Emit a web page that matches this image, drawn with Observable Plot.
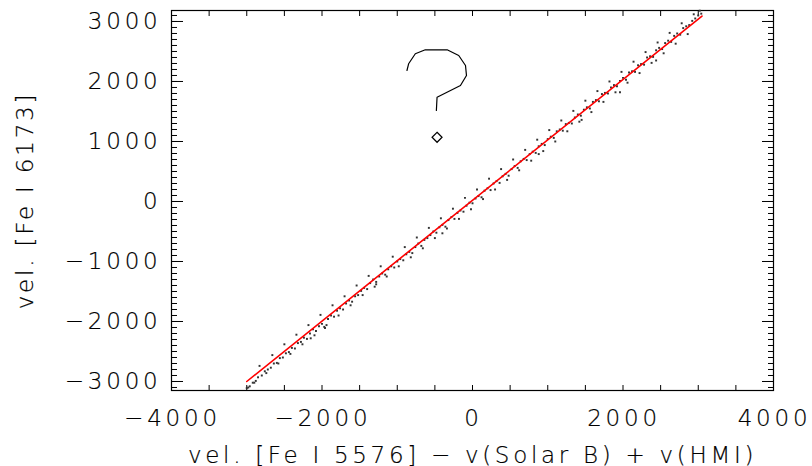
<!DOCTYPE html>
<html><head><meta charset="utf-8">
<script src="https://cdn.jsdelivr.net/npm/d3@7"></script>
<script src="https://cdn.jsdelivr.net/npm/@observablehq/plot@0.6"></script>
<style>
html,body{margin:0;padding:0;background:#fff;}
#chart svg{font-family:"DejaVu Sans",sans-serif;font-weight:200;}
#chart svg text{fill:#000;stroke:#000;stroke-width:0.2px;letter-spacing:3.8px;}
#chart svg g[aria-label="x-axis label"] text{letter-spacing:3.7px;}
#chart svg g[aria-label="y-axis label"] text{letter-spacing:2.8px;}
</style>
</head><body><div id="chart"></div>
<script>
// scatter points: vel [Fe I 5576]-v(Solar B)+v(HMI)  vs  vel [Fe I 6173]
const ptX = [-3000,-2960,-2920,-2880,-2850,-2800,-2760,-2720,-2680,-2640,-2600,-2560,-2520,-2480,-2440,-2400,-2360,-2320,-2280,-2240,-2200,-2160,-2120,-2080,-2040,-2000,-1960,-1920,-1880,-1840,-1800,-1760,-1720,-1680,-1640,-1600,-1560,-1520,-1480,-1440,-1400,-1360,-1320,-1280,-1240,-1200,-1160,-1120,-1080,-1040,-1000,-960,-920,-880,-840,-800,-760,-720,-680,-640,-600,-560,-520,-480,-440,-400,-360,-320,-280,-240,-200,-160,-120,-80,-40,0,40,80,120,160,200,240,280,320,360,400,440,480,520,560,600,640,680,720,760,800,840,880,920,960,1000,1040,1080,1120,1160,1200,1240,1280,1320,1360,1400,1440,1480,1520,1560,1600,1640,1680,1720,1760,1800,1840,1880,1920,1960,2000,2040,2080,2120,2160,2200,2240,2280,2320,2360,2400,2440,2480,2520,2560,2600,2640,2680,2720,2760,2800,2840,2880,2920,2960,3000,3040,
  -2980,-2900,-2830,-2740,-2660,-2580,-2500,-2420,-2340,-2260,-2180,-2100,-2020,-1940,-1860,-1780,-1700,-1620,-1540,-1460,-1380,-1300,-1220,-1140,-1060,-980,-900,-820,-740,-660,-580,-500,-420,-340,-260,-180,-100,-20,60,140,220,300,380,460,540,620,700,780,860,940,1020,1100,1180,1260,1340,1420,1500,1580,1660,1740,1820,1900,1980,2060,2140,2220,2300,2380,2460,2540,2620,2700,2780,2860,2940,3020,
  -1970,-1280,-400,1960,2440,1450,-2150,880];
const ptY = [-3110,-3080,-3020,-2990,-2930,-2900,-2830,-2800,-2770,-2700,-2690,-2610,-2600,-2530,-2510,-2440,-2450,-2360,-2340,-2270,-2290,-2200,-2130,-2160,-2080,-2040,-2110,-1960,-1900,-1920,-1820,-1780,-1800,-1700,-1650,-1670,-1580,-1560,-1490,-1440,-1460,-1360,-1300,-1340,-1250,-1200,-1220,-1130,-1080,-1100,-1000,-960,-980,-880,-840,-860,-760,-700,-740,-640,-610,-560,-500,-520,-430,-390,-420,-310,-260,-290,-190,-150,-170,-70,-20,-30,50,90,70,180,220,190,300,340,310,420,460,430,540,590,560,670,710,690,790,830,810,920,960,940,1040,1080,1060,1170,1200,1180,1290,1310,1300,1400,1450,1430,1530,1570,1550,1660,1690,1670,1790,1810,1800,1900,1940,1920,2010,2060,2030,2150,2170,2160,2270,2290,2280,2400,2420,2410,2520,2560,2540,2640,2680,2660,2760,2800,2780,2890,2920,2940,3010,3050,3100,3130,
  -3100,-3020,-2740,-2860,-2560,-2700,-2380,-2540,-2220,-2380,-2060,-2230,-1890,-2060,-1730,-1900,-1580,-1730,-1400,-1560,-1240,-1420,-1080,-1250,-920,-1080,-760,-930,-600,-780,-440,-610,-280,-450,-120,-290,60,-130,200,40,380,200,540,360,700,520,860,680,1030,840,1190,1000,1350,1170,1510,1330,1680,1490,1840,1660,2000,1820,2160,1980,2330,2140,2490,2310,2650,2470,2810,2630,2970,2790,3120,3180,
  -2090,-1380,-530,1820,2350,1360,-2280,790];

// fitted line endpoints
const fitX = [-3000, 3050];
const fitY = [-3000, 3090];

// hand-drawn question mark and diamond
const qX = [-871,-849,-760,-627,-337,-183,-93,-80,-160,-471,-480];
const qY = [2183,2295,2462,2528,2528,2433,2267,2100,1933,1738,1517];
const dX = [-471];
const dY = [1070];

const xLabelTicks = [-4000,-2000,0,2000,4000];
const xMinorTicks = d3.range(-4000, 4001, 500);
const yLabelTicks = [-3000,-2000,-1000,0,1000,2000,3000];
const yMinorTicks = d3.range(-3100, 3101, 100);

const pts = ptX.map((x,i)=>({x, y: ptY[i]}));
const fit = fitX.map((x,i)=>({x, y: fitY[i]}));
const qm = qX.map((x,i)=>({x, y: qY[i]}));
const dm = dX.map((x,i)=>({x, y: dY[i]}));

const blank = () => "";
const fmt = d => d < 0 ? "\u2212" + Math.abs(d) : String(d);

const plot = Plot.plot({
  width: 812, height: 466,
  marginLeft: 171, marginRight: 39, marginTop: 10, marginBottom: 76,
  style: {fontFamily: "DejaVu Sans, sans-serif", color: "#000", background: "#fff", overflow: "visible"},
  x: {domain: [-4000, 4000]},
  y: {domain: [-3150, 3183]},
  marks: [
    Plot.frame({stroke: "#000", strokeWidth: 1.2}),
    Plot.axisX({anchor: "bottom", ticks: xMinorTicks, tickSize: -5, tickFormat: blank, label: null}),
    Plot.axisX({anchor: "top", ticks: xMinorTicks, tickSize: -5, tickFormat: blank, label: null}),
    Plot.axisY({anchor: "left", ticks: yMinorTicks, tickSize: -6, tickFormat: blank, label: null}),
    Plot.axisY({anchor: "right", ticks: yMinorTicks, tickSize: -6, tickFormat: blank, label: null}),
    Plot.axisY({anchor: "left", ticks: yLabelTicks, tickSize: -12, tickFormat: blank, label: null}),
    Plot.axisY({anchor: "right", ticks: yLabelTicks, tickSize: -12, tickFormat: blank, label: null}),
    Plot.axisX({anchor: "bottom", ticks: xLabelTicks, tickSize: 0, tickPadding: 19, tickFormat: fmt, fontSize: 23, dx: 1,
      label: "vel. [Fe I 5576] \u2212 v(Solar B) + v(HMI)", labelAnchor: "center", labelArrow: "none", labelOffset: 72}),
    Plot.axisY({anchor: "left", ticks: yLabelTicks, tickSize: 0, tickPadding: 10, tickFormat: fmt, fontSize: 23,
      label: "vel. [Fe I 6173]", labelAnchor: "center", labelArrow: "none", labelOffset: 155}),
    Plot.dot(pts, {x: "x", y: "y", symbol: "square", r: 1.1, fill: "#333", stroke: "none"}),
    Plot.line(fit, {x: "x", y: "y", stroke: "#ff0000", strokeWidth: 1.6}),
    Plot.line(qm, {x: "x", y: "y", stroke: "#000", strokeWidth: 1.2, curve: "linear"}),
    Plot.dot(dm, {x: "x", y: "y", symbol: "diamond2", r: 4.5, stroke: "#000", fill: "none", strokeWidth: 1.2})
  ]
});
document.getElementById("chart").appendChild(plot);
</script>
</body></html>
